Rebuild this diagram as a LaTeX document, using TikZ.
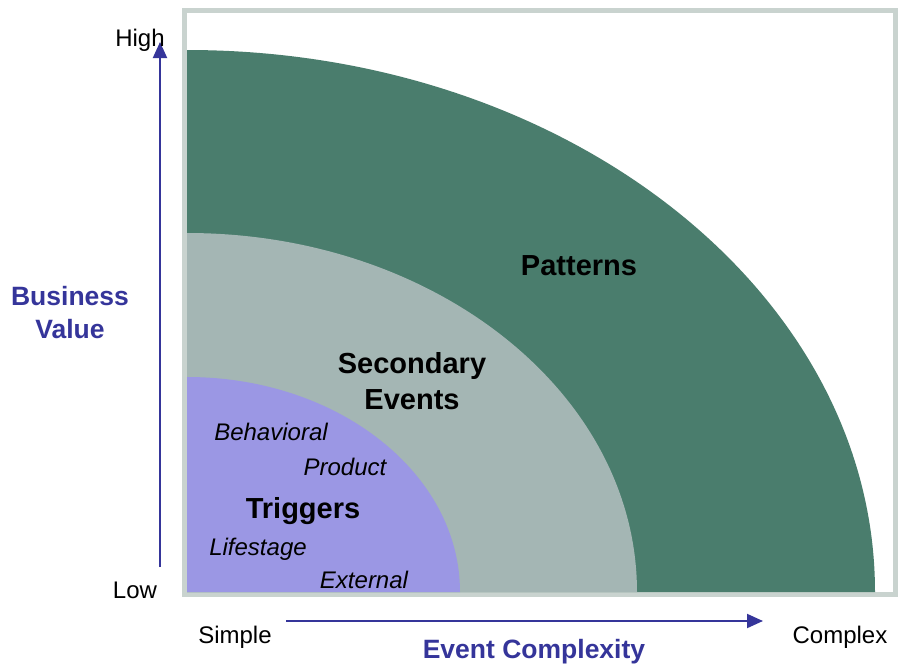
\documentclass[tikz,border=0pt]{standalone}
\usepackage{fontspec}
\setmainfont{Liberation Sans}
\usetikzlibrary{arrows.meta}
\definecolor{framegray}{HTML}{C9D3CF}
\definecolor{patgreen}{HTML}{4A7D6D}
\definecolor{secgray}{HTML}{A4B6B4}
\definecolor{trigblue}{HTML}{9B97E4}
\definecolor{axisblue}{HTML}{35359A}
\begin{document}
\begin{tikzpicture}[x=1pt,y=-1pt,
    axis/.style = {draw=axisblue,line width=2pt,-{Triangle[length=16pt,width=14pt]}},
    tick/.style = {font=\fontsize{24}{28}\selectfont},
    title/.style = {font=\fontsize{26.5}{33}\selectfont\bfseries,text=axisblue,align=center},
    band/.style = {font=\fontsize{29}{36}\selectfont\bfseries,align=center},
    kind/.style = {font=\fontsize{24}{28}\selectfont\itshape}]
\useasboundingbox (0,0) rectangle (898,667);
% frame and the three quarter bands
\coordinate (origin) at (187,592);
\draw[framegray,line width=5.5pt,fill=white] (184.5,10.5) rectangle (895.5,594.5);
\foreach \col/\rx/\ry in {patgreen/688/542, secgray/450/359, trigblue/273/215}
    \fill[\col] (origin) -- ++(\rx,0) arc[start angle=0,end angle=-90,x radius=\rx,y radius=\ry] -- cycle;
% axes
\coordinate (vlow)  at (160,567);
\coordinate (vhigh) at (160,42);
\coordinate (hlow)  at (286,621);
\coordinate (hhigh) at (763,621);
\draw[axis] (vlow) -- (vhigh);
\draw[axis] (hlow) -- (hhigh);
\node[tick] (high)    at (140,40)  {High};
\node[tick] (low)     at (135,590) {Low};
\node[tick] (simple)  at (235,637) {Simple};
\node[tick] (complex) at (840,637) {Complex};
\node[title] (value)   at (70,313)  {Business\\Value};
\node[title] (complexity) at (534,652) {Event Complexity};
% band labels
\node[band] (patterns)  at (579,266) {Patterns};
\node[band] (secondary) at (412,381) {Secondary\\Events};
\node[band] (triggers) at (303,511) {Triggers};
\node[kind] (behavioral) at (271,432) {Behavioral};
\node[kind] (product)    at (345,467) {Product};
\node[kind] (lifestage)  at (258,549) {Lifestage};
\node[kind] (external)   at (364,580) {External};
\end{tikzpicture}
\end{document}
